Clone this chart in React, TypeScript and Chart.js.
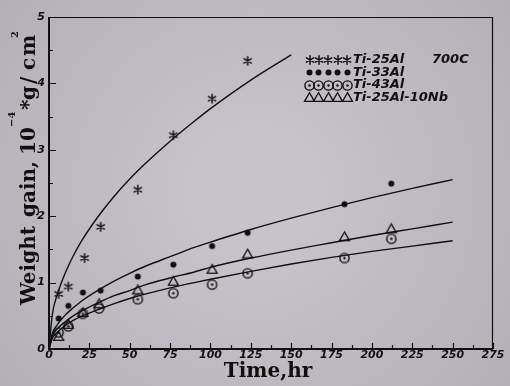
import React, { useEffect, useRef } from "react";
import { Chart, registerables } from "chart.js";

Chart.register(...registerables);

// ---- axis ranges / ticks ----
const xMin = 0;
const xMax = 275;
const xStep = 25;
const yMin = 0;
const yMax = 5;
const yStep = 1;

// ---- series names ----
const seriesNames = ["Ti-25Al", "Ti-33Al", "Ti-43Al", "Ti-25Al-10Nb"];
const temperatureLabel = "700C";
const xTitle = "Time,hr";

// ---- measured points ----
const timeTi25Al = [6, 12, 22, 32, 55, 77, 101, 123];
const gainTi25Al = [0.83, 0.94, 1.37, 1.84, 2.4, 3.22, 3.77, 4.34];

const timeTi33Al = [6, 12, 21, 32, 55, 77, 101, 123, 183, 212];
const gainTi33Al = [0.46, 0.65, 0.85, 0.88, 1.09, 1.27, 1.55, 1.75, 2.18, 2.49];

const timeTi43Al = [6, 12, 21, 31, 55, 77, 101, 123, 183, 212];
const gainTi43Al = [0.25, 0.34, 0.53, 0.61, 0.75, 0.84, 0.97, 1.14, 1.37, 1.66];

const timeTi25Al10Nb = [6, 12, 21, 31, 55, 77, 101, 123, 183, 212];
const gainTi25Al10Nb = [0.19, 0.37, 0.55, 0.68, 0.89, 1.02, 1.2, 1.43, 1.69, 1.81];

// ---- fitted curves ----
const fitTime = [0, 2, 5, 10, 15, 20, 30, 40, 50, 60, 75, 90, 100, 125, 150, 175, 200, 225, 250];
const fitTi25Al = [0, 0.51, 0.81, 1.14, 1.4, 1.62, 1.98, 2.29, 2.56, 2.8, 3.13, 3.43, 3.62, 4.05, 4.43];
const fitTi33Al = [0, 0.23, 0.36, 0.51, 0.62, 0.72, 0.88, 1.02, 1.14, 1.25, 1.39, 1.53, 1.61, 1.8, 1.97, 2.13, 2.28, 2.42, 2.55];
const fitTi43Al = [0, 0.16, 0.25, 0.35, 0.43, 0.49, 0.59, 0.68, 0.76, 0.83, 0.92, 1.0, 1.05, 1.17, 1.28, 1.38, 1.47, 1.55, 1.63];
const fitTi25Al10Nb = [0, 0.19, 0.3, 0.41, 0.5, 0.57, 0.69, 0.8, 0.88, 0.97, 1.07, 1.16, 1.23, 1.37, 1.49, 1.6, 1.71, 1.81, 1.91];

const INK = "#101010";

function pts(xs: number[], ys: number[]) {
  return ys.map((y, i) => ({ x: xs[i], y }));
}

function makeMarker(size: number, draw: (ctx: CanvasRenderingContext2D, c: number) => void) {
  const cv = document.createElement("canvas");
  cv.width = size;
  cv.height = size;
  const ctx = cv.getContext("2d")!;
  ctx.strokeStyle = INK;
  ctx.fillStyle = INK;
  draw(ctx, size / 2);
  return cv;
}

export default function App() {
  const ref = useRef<HTMLCanvasElement | null>(null);

  useEffect(() => {
    const canvas = ref.current;
    if (!canvas) return;

    const starImg = makeMarker(12, (ctx, c) => {
      ctx.lineWidth = 1.5;
      ctx.lineCap = "round";
      ctx.beginPath();
      for (const a of [90, 30, 150]) {
        const r = (a * Math.PI) / 180;
        ctx.moveTo(c - Math.cos(r) * 4.2, c - Math.sin(r) * 4.2);
        ctx.lineTo(c + Math.cos(r) * 4.2, c + Math.sin(r) * 4.2);
      }
      ctx.stroke();
    });
    const dotImg = makeMarker(9, (ctx, c) => {
      ctx.beginPath();
      ctx.arc(c, c, 3, 0, Math.PI * 2);
      ctx.fill();
    });
    const circleDotImg = makeMarker(13, (ctx, c) => {
      ctx.lineWidth = 1.4;
      ctx.beginPath();
      ctx.arc(c, c, 4.6, 0, Math.PI * 2);
      ctx.stroke();
      ctx.beginPath();
      ctx.arc(c, c, 1.2, 0, Math.PI * 2);
      ctx.fill();
    });
    const triImg = makeMarker(13, (ctx, c) => {
      ctx.lineWidth = 1.3;
      ctx.beginPath();
      ctx.moveTo(c, c - 4.8);
      ctx.lineTo(c + 5, c + 3.8);
      ctx.lineTo(c - 5, c + 3.8);
      ctx.closePath();
      ctx.stroke();
    });
    const markers = [starImg, dotImg, circleDotImg, triImg];

    const bgPlugin = {
      id: "bg",
      beforeDraw(chart: any) {
        const { ctx, width, height } = chart;
        ctx.save();
        const g = ctx.createRadialGradient(width / 2, height / 2, 60, width / 2, height / 2, 340);
        g.addColorStop(0, "#c8c3ca");
        g.addColorStop(1, "#b3aeb5");
        ctx.fillStyle = g;
        ctx.fillRect(0, 0, width, height);
        ctx.restore();
      },
    };

    const framePlugin = {
      id: "frame",
      afterDraw(chart: any) {
        const { ctx, chartArea } = chart;
        const { left, right, top, bottom } = chartArea;
        const xs = chart.scales.x;
        const ys = chart.scales.y;
        ctx.save();
        ctx.strokeStyle = INK;
        // top and right frame
        ctx.lineWidth = 1.2;
        ctx.beginPath();
        ctx.moveTo(left, top + 0.5);
        ctx.lineTo(right, top + 0.5);
        ctx.moveTo(right - 0.5, top);
        ctx.lineTo(right - 0.5, bottom);
        ctx.stroke();
        // axes
        ctx.lineWidth = 2;
        ctx.beginPath();
        ctx.moveTo(left, top);
        ctx.lineTo(left, bottom);
        ctx.lineTo(right, bottom);
        ctx.stroke();
        // x ticks (inward)
        ctx.lineWidth = 1.2;
        ctx.beginPath();
        for (let v = xMin; v <= xMax + 0.01; v += xStep / 2) {
          const px = Math.round(xs.getPixelForValue(v)) + 0.5;
          const major = Math.abs(v / xStep - Math.round(v / xStep)) < 1e-6;
          const len = major ? 6 : 4;
          ctx.moveTo(px, bottom);
          ctx.lineTo(px, bottom - len);
        }
        // y ticks (inward)
        for (let v = yMin; v <= yMax + 0.001; v += yStep / 2) {
          const py = Math.round(ys.getPixelForValue(v)) + 0.5;
          const major = Math.abs(v / yStep - Math.round(v / yStep)) < 1e-6;
          const len = major ? 7 : 4;
          ctx.moveTo(left, py);
          ctx.lineTo(left + len, py);
        }
        ctx.stroke();

        // legend
        const rowY = [60, 72.5, 85, 97.5];
        ctx.fillStyle = INK;
        ctx.font = "italic bold 13px 'DejaVu Sans'";
        ctx.textBaseline = "middle";
        ctx.textAlign = "left";
        seriesNames.forEach((name, i) => {
          for (let k = 0; k < 5; k++) {
            const img = markers[i];
            const cx = 309.5 + k * 9.4;
            ctx.drawImage(img, Math.round(cx - img.width / 2), Math.round(rowY[i] - img.height / 2));
          }
          ctx.fillText(name, 353, rowY[i]);
        });
        ctx.fillText(temperatureLabel, 432, rowY[0]);

        // x title
        ctx.font = "bold 20px 'DejaVu Serif'";
        ctx.textAlign = "center";
        ctx.textBaseline = "alphabetic";
        ctx.fillText(xTitle, 268, 377);

        // y title (rotated, with superscripts)
        ctx.save();
        ctx.translate(35, 0);
        ctx.rotate(-Math.PI / 2);
        ctx.textAlign = "left";
        ctx.font = "bold 20px 'DejaVu Serif'";
        const draw = (t: string, yScreen: number, v = 0) => ctx.fillText(t, -yScreen, v);
        draw("Weight", 305);
        draw("gain,", 217);
        draw("10", 155);
        draw("*", 110);
        draw("g", 100);
        draw("/", 84);
        draw("c", 70);
        draw("m", 56);
        ctx.font = "bold 10px 'DejaVu Serif'";
        draw("\u22124", 127, -20);
        draw("2", 38, -17);
        ctx.restore();

        ctx.restore();
      },
    };

    const tickFont = { family: "'DejaVu Sans'", size: 11, style: "italic" as const, weight: "bold" as const };

    const fitLine = (data: { x: number; y: number }[]) => ({
      data,
      borderColor: INK,
      borderWidth: 1.4,
      pointRadius: 0,
      fill: false,
      cubicInterpolationMode: "monotone" as const,
    });
    const pointSet = (data: { x: number; y: number }[], img: HTMLCanvasElement) => ({
      data,
      showLine: false,
      pointStyle: img,
      pointRadius: 5,
      borderColor: INK,
      backgroundColor: INK,
    });

    const chart = new Chart(canvas, {
      type: "line",
      data: {
        datasets: [
          pointSet(pts(timeTi25Al, gainTi25Al), starImg),
          pointSet(pts(timeTi33Al, gainTi33Al), dotImg),
          pointSet(pts(timeTi43Al, gainTi43Al), circleDotImg),
          pointSet(pts(timeTi25Al10Nb, gainTi25Al10Nb), triImg),
          fitLine(pts(fitTime, fitTi25Al)),
          fitLine(pts(fitTime, fitTi33Al)),
          fitLine(pts(fitTime, fitTi43Al)),
          fitLine(pts(fitTime, fitTi25Al10Nb)),
        ] as any,
      },
      options: {
        animation: false,
        responsive: false,
        devicePixelRatio: 1,
        layout: { padding: { top: 17, right: 17, left: 0, bottom: 0 } },
        plugins: { legend: { display: false }, tooltip: { enabled: false } },
        scales: {
          x: {
            type: "linear",
            min: xMin,
            max: xMax,
            afterFit: (s: any) => {
              s.height = 37;
            },
            grid: { display: false, drawTicks: false },
            border: { display: false },
            ticks: { stepSize: xStep, autoSkip: false, maxRotation: 0, padding: 0, font: tickFont, color: INK },
          },
          y: {
            type: "linear",
            min: yMin,
            max: yMax,
            afterFit: (s: any) => {
              s.width = 49;
            },
            grid: { display: false, drawTicks: false },
            border: { display: false },
            ticks: { stepSize: yStep, autoSkip: false, padding: 4, font: tickFont, color: INK },
          },
        },
      } as any,
      plugins: [bgPlugin, framePlugin],
    });

    return () => chart.destroy();
  }, []);

  return (
    <div style={{ position: "absolute", left: 0, top: 0, width: 510, height: 386 }}>
      <canvas ref={ref} width={510} height={386} style={{ display: "block" }} />
    </div>
  );
}
